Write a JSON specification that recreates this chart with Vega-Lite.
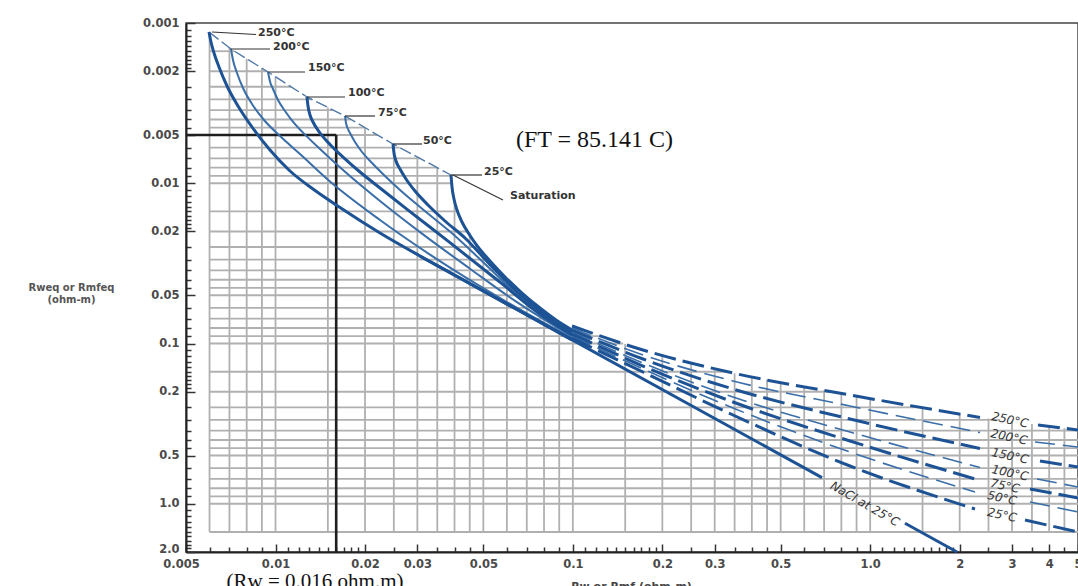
{
  "$schema": "https://vega.github.io/schema/vega-lite/v6.json",
  "width": 892,
  "height": 529,
  "autosize": {"type": "none"},
  "padding": {"left": 186, "top": 23, "right": 0, "bottom": 34},
  "background": "white",
  "config": {"view": {"stroke": "#444", "strokeWidth": 1.5}},
  "datasets": {
    "gridV": [
      {"x": 0.006, "y": 0.0011447, "y2": 1.5}, {"x": 0.007, "y": 0.001428, "y2": 1.5}, {"x": 0.008, "y": 0.0016726, "y2": 1.5},
      {"x": 0.009, "y": 0.0019145, "y2": 1.5}, {"x": 0.01, "y": 0.0021663, "y2": 1.5}, {"x": 0.015, "y": 0.0033674, "y2": 1.5},
      {"x": 0.02, "y": 0.0045013, "y2": 1.5}, {"x": 0.025, "y": 0.0057302, "y2": 1.5}, {"x": 0.03, "y": 0.0068576, "y2": 1.5},
      {"x": 0.035, "y": 0.0079972, "y2": 1.5}, {"x": 0.04, "y": 0.012867, "y2": 1.5}, {"x": 0.045, "y": 0.020291, "y2": 1.5},
      {"x": 0.05, "y": 0.027319, "y2": 1.5}, {"x": 0.06, "y": 0.039409, "y2": 1.5}, {"x": 0.07, "y": 0.051189, "y2": 1.5},
      {"x": 0.08, "y": 0.062593, "y2": 1.5}, {"x": 0.09, "y": 0.073312, "y2": 1.5}, {"x": 0.1, "y": 0.077983, "y2": 1.5},
      {"x": 0.15, "y": 0.10057, "y2": 1.5}, {"x": 0.2, "y": 0.11796, "y2": 1.5}, {"x": 0.25, "y": 0.131, "y2": 1.5},
      {"x": 0.3, "y": 0.1428, "y2": 1.5}, {"x": 0.35, "y": 0.15344, "y2": 1.5}, {"x": 0.4, "y": 0.16066, "y2": 1.5},
      {"x": 0.45, "y": 0.1675, "y2": 1.5}, {"x": 0.5, "y": 0.17362, "y2": 1.5}, {"x": 0.6, "y": 0.18522, "y2": 1.5},
      {"x": 0.7, "y": 0.19533, "y2": 1.5}, {"x": 0.8, "y": 0.20452, "y2": 1.5}, {"x": 0.9, "y": 0.21292, "y2": 1.5},
      {"x": 1.0, "y": 0.22039, "y2": 1.5}, {"x": 1.5, "y": 0.25115, "y2": 1.5}, {"x": 2.0, "y": 0.27534, "y2": 1.5},
      {"x": 2.5, "y": 0.29374, "y2": 1.5}, {"x": 3.0, "y": 0.30668, "y2": 1.5}, {"x": 3.5, "y": 0.31789, "y2": 1.5},
      {"x": 4.0, "y": 0.32857, "y2": 1.5}, {"x": 4.5, "y": 0.33767, "y2": 1.5}
    ],
    "gridH": [
      {"y": 0.0015, "x": 0.006, "x2": 0.007279}, {"y": 0.002, "x": 0.006, "x2": 0.0093555}, {"y": 0.0025, "x": 0.006, "x2": 0.011292},
      {"y": 0.003, "x": 0.006, "x2": 0.013266}, {"y": 0.0035, "x": 0.006, "x2": 0.015657}, {"y": 0.004, "x": 0.006, "x2": 0.017943},
      {"y": 0.0045, "x": 0.006, "x2": 0.019998}, {"y": 0.005, "x": 0.006, "x2": 0.022014}, {"y": 0.006, "x": 0.006, "x2": 0.026164},
      {"y": 0.007, "x": 0.006, "x2": 0.03057}, {"y": 0.008, "x": 0.006, "x2": 0.03498}, {"y": 0.009, "x": 0.006, "x2": 0.039228},
      {"y": 0.01, "x": 0.006, "x2": 0.039228}, {"y": 0.015, "x": 0.006, "x2": 0.040997}, {"y": 0.02, "x": 0.006, "x2": 0.044265},
      {"y": 0.025, "x": 0.006, "x2": 0.047977}, {"y": 0.03, "x": 0.006, "x2": 0.05224}, {"y": 0.035, "x": 0.006, "x2": 0.056408},
      {"y": 0.04, "x": 0.006, "x2": 0.060527}, {"y": 0.045, "x": 0.006, "x2": 0.064742}, {"y": 0.05, "x": 0.006, "x2": 0.068935},
      {"y": 0.06, "x": 0.006, "x2": 0.077487}, {"y": 0.07, "x": 0.006, "x2": 0.086425}, {"y": 0.08, "x": 0.006, "x2": 0.096772},
      {"y": 0.09, "x": 0.006, "x2": 0.12524}, {"y": 0.1, "x": 0.006, "x2": 0.14769}, {"y": 0.15, "x": 0.006, "x2": 0.32997},
      {"y": 0.2, "x": 0.006, "x2": 0.74697}, {"y": 0.25, "x": 0.006, "x2": 1.4823}, {"y": 0.3, "x": 0.006, "x2": 2.7395},
      {"y": 0.35, "x": 0.006, "x2": 5}, {"y": 0.4, "x": 0.006, "x2": 5}, {"y": 0.45, "x": 0.006, "x2": 5},
      {"y": 0.5, "x": 0.006, "x2": 5}, {"y": 0.6, "x": 0.006, "x2": 5}, {"y": 0.7, "x": 0.006, "x2": 5},
      {"y": 0.8, "x": 0.006, "x2": 5}, {"y": 0.9, "x": 0.006, "x2": 5}, {"y": 1.0, "x": 0.006, "x2": 5},
      {"y": 1.5, "x": 0.006, "x2": 5}
    ],
    "reading": [
      {"x": 0.005, "x2": 0.016, "y": 0.005, "y2": 0.005},
      {"x": 0.016, "x2": 0.016, "y": 0.005, "y2": 2.0}
    ],
    "saturation": [
      {"x": 0.005975, "y": 0.0011381}, {"x": 0.007084, "y": 0.0014529}, {"x": 0.009435, "y": 0.0020219},
      {"x": 0.012762, "y": 0.0028958}, {"x": 0.017129, "y": 0.0038048}, {"x": 0.024841, "y": 0.0056892},
      {"x": 0.038925, "y": 0.0088817}
    ],
    "curves": [
      {"T": "250", "part": "solid", "seg": "250s", "x": 0.005975, "y": 0.0011381},
      {"T": "250", "part": "solid", "seg": "250s", "x": 0.006068, "y": 0.0013139},
      {"T": "250", "part": "solid", "seg": "250s", "x": 0.006211, "y": 0.0015389},
      {"T": "250", "part": "solid", "seg": "250s", "x": 0.006456, "y": 0.0018817},
      {"T": "250", "part": "solid", "seg": "250s", "x": 0.006869, "y": 0.0024724},
      {"T": "250", "part": "solid", "seg": "250s", "x": 0.007479, "y": 0.0032956},
      {"T": "250", "part": "solid", "seg": "250s", "x": 0.008336, "y": 0.0044563},
      {"T": "250", "part": "solid", "seg": "250s", "x": 0.009583, "y": 0.0062014},
      {"T": "250", "part": "solid", "seg": "250s", "x": 0.011188, "y": 0.0083856},
      {"T": "250", "part": "solid", "seg": "250s", "x": 0.013369, "y": 0.010861},
      {"T": "250", "part": "solid", "seg": "250s", "x": 0.016478, "y": 0.014167},
      {"T": "250", "part": "solid", "seg": "250s", "x": 0.022461, "y": 0.020437},
      {"T": "250", "part": "solid", "seg": "250s", "x": 0.030617, "y": 0.02844},
      {"T": "250", "part": "solid", "seg": "250s", "x": 0.041734, "y": 0.039015},
      {"T": "250", "part": "solid", "seg": "250s", "x": 0.056891, "y": 0.053674},
      {"T": "250", "part": "solid", "seg": "250s", "x": 0.077546, "y": 0.073628},
      {"T": "250", "part": "solid", "seg": "250s", "x": 0.099352, "y": 0.094949},
      {"T": "200", "part": "solid", "seg": "200s", "x": 0.007084, "y": 0.0014529},
      {"T": "200", "part": "solid", "seg": "200s", "x": 0.007195, "y": 0.0017017},
      {"T": "200", "part": "solid", "seg": "200s", "x": 0.007422, "y": 0.0020512},
      {"T": "200", "part": "solid", "seg": "200s", "x": 0.007774, "y": 0.0025446},
      {"T": "200", "part": "solid", "seg": "200s", "x": 0.008336, "y": 0.0032022},
      {"T": "200", "part": "solid", "seg": "200s", "x": 0.009147, "y": 0.0040299},
      {"T": "200", "part": "solid", "seg": "200s", "x": 0.010354, "y": 0.0050716},
      {"T": "200", "part": "solid", "seg": "200s", "x": 0.012089, "y": 0.0065683},
      {"T": "200", "part": "solid", "seg": "200s", "x": 0.01525, "y": 0.0097512},
      {"T": "200", "part": "solid", "seg": "200s", "x": 0.022461, "y": 0.016955},
      {"T": "200", "part": "solid", "seg": "200s", "x": 0.033082, "y": 0.027874},
      {"T": "200", "part": "solid", "seg": "200s", "x": 0.048726, "y": 0.043894},
      {"T": "200", "part": "solid", "seg": "200s", "x": 0.071764, "y": 0.066582},
      {"T": "200", "part": "solid", "seg": "200s", "x": 0.099352, "y": 0.092259},
      {"T": "150", "part": "solid", "seg": "150s", "x": 0.009435, "y": 0.0020219},
      {"T": "150", "part": "solid", "seg": "150s", "x": 0.009583, "y": 0.0023177},
      {"T": "150", "part": "solid", "seg": "150s", "x": 0.009808, "y": 0.0025814},
      {"T": "150", "part": "solid", "seg": "150s", "x": 0.010195, "y": 0.0030234},
      {"T": "150", "part": "solid", "seg": "150s", "x": 0.010763, "y": 0.0035411},
      {"T": "150", "part": "solid", "seg": "150s", "x": 0.01163, "y": 0.0042805},
      {"T": "150", "part": "solid", "seg": "150s", "x": 0.012373, "y": 0.0048296},
      {"T": "150", "part": "solid", "seg": "150s", "x": 0.014114, "y": 0.006113},
      {"T": "150", "part": "solid", "seg": "150s", "x": 0.017129, "y": 0.0084826},
      {"T": "150", "part": "solid", "seg": "150s", "x": 0.022461, "y": 0.012904},
      {"T": "150", "part": "solid", "seg": "150s", "x": 0.030617, "y": 0.020175},
      {"T": "150", "part": "solid", "seg": "150s", "x": 0.045095, "y": 0.034134},
      {"T": "150", "part": "solid", "seg": "150s", "x": 0.066421, "y": 0.056849},
      {"T": "150", "part": "solid", "seg": "150s", "x": 0.099352, "y": 0.090292},
      {"T": "100", "part": "solid", "seg": "100s", "x": 0.012762, "y": 0.0028958},
      {"T": "100", "part": "solid", "seg": "100s", "x": 0.012861, "y": 0.0032956},
      {"T": "100", "part": "solid", "seg": "100s", "x": 0.013062, "y": 0.0037505},
      {"T": "100", "part": "solid", "seg": "100s", "x": 0.013369, "y": 0.0041474},
      {"T": "100", "part": "solid", "seg": "100s", "x": 0.014114, "y": 0.0048575},
      {"T": "100", "part": "solid", "seg": "100s", "x": 0.01525, "y": 0.0057302},
      {"T": "100", "part": "solid", "seg": "100s", "x": 0.017129, "y": 0.0070374},
      {"T": "100", "part": "solid", "seg": "100s", "x": 0.019239, "y": 0.0085068},
      {"T": "100", "part": "solid", "seg": "100s", "x": 0.022461, "y": 0.010706},
      {"T": "100", "part": "solid", "seg": "100s", "x": 0.028336, "y": 0.015027},
      {"T": "100", "part": "solid", "seg": "100s", "x": 0.038624, "y": 0.02346},
      {"T": "100", "part": "solid", "seg": "100s", "x": 0.056891, "y": 0.041442},
      {"T": "100", "part": "solid", "seg": "100s", "x": 0.077546, "y": 0.065632},
      {"T": "100", "part": "solid", "seg": "100s", "x": 0.099352, "y": 0.088367},
      {"T": "75", "part": "solid", "seg": "75s", "x": 0.017129, "y": 0.0038048},
      {"T": "75", "part": "solid", "seg": "75s", "x": 0.017262, "y": 0.0042074},
      {"T": "75", "part": "solid", "seg": "75s", "x": 0.017531, "y": 0.0045862},
      {"T": "75", "part": "solid", "seg": "75s", "x": 0.017805, "y": 0.0048575},
      {"T": "75", "part": "solid", "seg": "75s", "x": 0.018508, "y": 0.005528},
      {"T": "75", "part": "solid", "seg": "75s", "x": 0.019539, "y": 0.0063822},
      {"T": "75", "part": "solid", "seg": "75s", "x": 0.021112, "y": 0.007475},
      {"T": "75", "part": "solid", "seg": "75s", "x": 0.023348, "y": 0.0090103},
      {"T": "75", "part": "solid", "seg": "75s", "x": 0.026224, "y": 0.011018},
      {"T": "75", "part": "solid", "seg": "75s", "x": 0.030617, "y": 0.014066},
      {"T": "75", "part": "solid", "seg": "75s", "x": 0.038624, "y": 0.02003},
      {"T": "75", "part": "solid", "seg": "75s", "x": 0.052648, "y": 0.034134},
      {"T": "75", "part": "solid", "seg": "75s", "x": 0.067457, "y": 0.052985},
      {"T": "75", "part": "solid", "seg": "75s", "x": 0.077546, "y": 0.064234},
      {"T": "75", "part": "solid", "seg": "75s", "x": 0.099352, "y": 0.086481},
      {"T": "50", "part": "solid", "seg": "50s", "x": 0.024841, "y": 0.0056892},
      {"T": "50", "part": "solid", "seg": "50s", "x": 0.025034, "y": 0.0064746},
      {"T": "50", "part": "solid", "seg": "50s", "x": 0.025425, "y": 0.0072632},
      {"T": "50", "part": "solid", "seg": "50s", "x": 0.026224, "y": 0.008148},
      {"T": "50", "part": "solid", "seg": "50s", "x": 0.027471, "y": 0.0094069},
      {"T": "50", "part": "solid", "seg": "50s", "x": 0.029455, "y": 0.011178},
      {"T": "50", "part": "solid", "seg": "50s", "x": 0.032574, "y": 0.013668},
      {"T": "50", "part": "solid", "seg": "50s", "x": 0.037158, "y": 0.017201},
      {"T": "50", "part": "solid", "seg": "50s", "x": 0.043382, "y": 0.02196},
      {"T": "50", "part": "solid", "seg": "50s", "x": 0.052648, "y": 0.032228},
      {"T": "50", "part": "solid", "seg": "50s", "x": 0.067457, "y": 0.05075},
      {"T": "50", "part": "solid", "seg": "50s", "x": 0.077546, "y": 0.062414},
      {"T": "50", "part": "solid", "seg": "50s", "x": 0.087776, "y": 0.073416},
      {"T": "50", "part": "solid", "seg": "50s", "x": 0.099352, "y": 0.084638},
      {"T": "25", "part": "solid", "seg": "25s", "x": 0.038925, "y": 0.0088817},
      {"T": "25", "part": "solid", "seg": "25s", "x": 0.039228, "y": 0.010553},
      {"T": "25", "part": "solid", "seg": "25s", "x": 0.03984, "y": 0.012539},
      {"T": "25", "part": "solid", "seg": "25s", "x": 0.040777, "y": 0.014686},
      {"T": "25", "part": "solid", "seg": "25s", "x": 0.042386, "y": 0.017449},
      {"T": "25", "part": "solid", "seg": "25s", "x": 0.044746, "y": 0.020733},
      {"T": "25", "part": "solid", "seg": "25s", "x": 0.047977, "y": 0.024991},
      {"T": "25", "part": "solid", "seg": "25s", "x": 0.052648, "y": 0.03056},
      {"T": "25", "part": "solid", "seg": "25s", "x": 0.059136, "y": 0.038459},
      {"T": "25", "part": "solid", "seg": "25s", "x": 0.067457, "y": 0.048398},
      {"T": "25", "part": "solid", "seg": "25s", "x": 0.077546, "y": 0.060038},
      {"T": "25", "part": "solid", "seg": "25s", "x": 0.087776, "y": 0.071336},
      {"T": "25", "part": "solid", "seg": "25s", "x": 0.099352, "y": 0.08236},
      {"T": "250", "part": "dashed", "seg": "250a", "x": 0.099352, "y": 0.077759},
      {"T": "250", "part": "dashed", "seg": "250a", "x": 0.17218, "y": 0.10978},
      {"T": "250", "part": "dashed", "seg": "250a", "x": 0.34567, "y": 0.15278},
      {"T": "250", "part": "dashed", "seg": "250a", "x": 0.85536, "y": 0.20957},
      {"T": "250", "part": "dashed", "seg": "250a", "x": 2.3409, "y": 0.28954},
      {"T": "250", "part": "dashed", "seg": "250b", "x": 3.6681, "y": 0.32249},
      {"T": "250", "part": "dashed", "seg": "250b", "x": 5.0, "y": 0.34652},
      {"T": "200", "part": "dashed", "seg": "200a", "x": 0.099352, "y": 0.080026},
      {"T": "200", "part": "dashed", "seg": "200a", "x": 0.17218, "y": 0.11796},
      {"T": "200", "part": "dashed", "seg": "200a", "x": 0.34567, "y": 0.17139},
      {"T": "200", "part": "dashed", "seg": "200a", "x": 0.85536, "y": 0.24545},
      {"T": "200", "part": "dashed", "seg": "200a", "x": 2.3409, "y": 0.35919},
      {"T": "200", "part": "dashed", "seg": "200b", "x": 3.5839, "y": 0.41172},
      {"T": "200", "part": "dashed", "seg": "200b", "x": 5.0, "y": 0.44239},
      {"T": "150", "part": "dashed", "seg": "150a", "x": 0.099352, "y": 0.08236},
      {"T": "150", "part": "dashed", "seg": "150a", "x": 0.17218, "y": 0.12493},
      {"T": "150", "part": "dashed", "seg": "150a", "x": 0.34567, "y": 0.19227},
      {"T": "150", "part": "dashed", "seg": "150a", "x": 0.85536, "y": 0.29585},
      {"T": "150", "part": "dashed", "seg": "150a", "x": 2.3409, "y": 0.45203},
      {"T": "150", "part": "dashed", "seg": "150b", "x": 3.7254, "y": 0.54097},
      {"T": "150", "part": "dashed", "seg": "150b", "x": 5.0, "y": 0.58966},
      {"T": "100", "part": "dashed", "seg": "100a", "x": 0.099352, "y": 0.08476},
      {"T": "100", "part": "dashed", "seg": "100a", "x": 0.17218, "y": 0.13233},
      {"T": "100", "part": "dashed", "seg": "100a", "x": 0.34567, "y": 0.21568},
      {"T": "100", "part": "dashed", "seg": "100a", "x": 0.85536, "y": 0.35662},
      {"T": "100", "part": "dashed", "seg": "100a", "x": 2.3409, "y": 0.59391},
      {"T": "100", "part": "dashed", "seg": "100b", "x": 3.6399, "y": 0.70063},
      {"T": "100", "part": "dashed", "seg": "100b", "x": 5.0, "y": 0.78598},
      {"T": "75", "part": "dashed", "seg": "75a", "x": 0.099352, "y": 0.08723},
      {"T": "75", "part": "dashed", "seg": "75a", "x": 0.17218, "y": 0.13816},
      {"T": "75", "part": "dashed", "seg": "75a", "x": 0.34567, "y": 0.23174},
      {"T": "75", "part": "dashed", "seg": "75a", "x": 0.85536, "y": 0.40585},
      {"T": "75", "part": "dashed", "seg": "75a", "x": 2.252, "y": 0.70063},
      {"T": "75", "part": "dashed", "seg": "75b", "x": 3.4478, "y": 0.80889},
      {"T": "75", "part": "dashed", "seg": "75b", "x": 5.0, "y": 0.92056},
      {"T": "50", "part": "dashed", "seg": "50a", "x": 0.099352, "y": 0.089773},
      {"T": "50", "part": "dashed", "seg": "50a", "x": 0.17218, "y": 0.14424},
      {"T": "50", "part": "dashed", "seg": "50a", "x": 0.34567, "y": 0.2526},
      {"T": "50", "part": "dashed", "seg": "50a", "x": 0.85536, "y": 0.47534},
      {"T": "50", "part": "dashed", "seg": "50a", "x": 2.252, "y": 0.84452},
      {"T": "50", "part": "dashed", "seg": "50b", "x": 3.4478, "y": 0.97501},
      {"T": "50", "part": "dashed", "seg": "50b", "x": 5.0, "y": 1.1257},
      {"T": "25", "part": "dashed", "seg": "25a", "x": 0.099352, "y": 0.092391},
      {"T": "25", "part": "dashed", "seg": "25a", "x": 0.17218, "y": 0.1506},
      {"T": "25", "part": "dashed", "seg": "25a", "x": 0.34567, "y": 0.27933},
      {"T": "25", "part": "dashed", "seg": "25a", "x": 0.85536, "y": 0.58125},
      {"T": "25", "part": "dashed", "seg": "25a", "x": 2.252, "y": 1.0782},
      {"T": "25", "part": "dashed", "seg": "25b", "x": 3.3169, "y": 1.2628},
      {"T": "25", "part": "dashed", "seg": "25b", "x": 5.0, "y": 1.5004},
      {"T": "NaCl", "part": "nacl", "seg": "na", "x": 0.030617, "y": 0.028481},
      {"T": "NaCl", "part": "nacl", "seg": "na", "x": 0.68865, "y": 0.68667},
      {"T": "NaCl", "part": "nacl", "seg": "nb", "x": 1.3096, "y": 1.3241},
      {"T": "NaCl", "part": "nacl", "seg": "nb", "x": 1.959, "y": 2.0}
    ],
    "leaders": [
      {"x": 0.0061153, "y": 0.0011381, "x2": 0.0085982, "y2": 0.0011800},
      {"x": 0.007084, "y": 0.0014529, "x2": 0.009583, "y2": 0.0014529},
      {"x": 0.009435, "y": 0.0020219, "x2": 0.012566, "y2": 0.0020219},
      {"x": 0.012762, "y": 0.0028958, "x2": 0.017129, "y2": 0.0028958},
      {"x": 0.017129, "y": 0.0038048, "x2": 0.021609, "y2": 0.0038048},
      {"x": 0.024841, "y": 0.0056892, "x2": 0.031095, "y2": 0.0056892},
      {"x": 0.038925, "y": 0.0088817, "x2": 0.049487, "y2": 0.0088817},
      {"x": 0.039532, "y": 0.0088817, "x2": 0.058229, "y2": 0.01272}
    ],
    "leftLabels": [
      {"x": 0.008732, "y": 0.0011546, "label": "250°C"},
      {"x": 0.009808, "y": 0.0014217, "label": "200°C"},
      {"x": 0.012861, "y": 0.001909, "label": "150°C"},
      {"x": 0.017531, "y": 0.002734, "label": "100°C"},
      {"x": 0.022116, "y": 0.0036443, "label": "75°C"},
      {"x": 0.031337, "y": 0.0054492, "label": "50°C"},
      {"x": 0.05026, "y": 0.0085068, "label": "25°C"},
      {"x": 0.06147, "y": 0.01201, "label": "Saturation"}
    ],
    "rightLabels": [
      {"x": 2.9531, "y": 0.30014, "label": "250°C"},
      {"x": 2.9302, "y": 0.38319, "label": "200°C"},
      {"x": 2.9531, "y": 0.50347, "label": "150°C"},
      {"x": 2.9531, "y": 0.64278, "label": "100°C"},
      {"x": 2.8409, "y": 0.77477, "label": "75°C"},
      {"x": 2.7757, "y": 0.92056, "label": "50°C"},
      {"x": 2.7757, "y": 1.1753, "label": "25°C"}
    ],
    "naclLabel": [{"x": 0.96075, "y": 1.0034, "label": "NaCl at 25°C"}],
    "ftLabel": [{"x": 0.11826, "y": 0.0053715, "label": "(FT = 85.141 C)"}],
    "rwLabel": [{"x": 0.013578, "y": 2.0, "label": "(Rw = 0.016 ohm.m)"}]
  },
  "encoding": {
    "x": {
      "field": "x", "type": "quantitative",
      "scale": {"type": "log", "domain": [0.005, 5], "nice": false},
      "axis": {
        "title": "Rw or Rmf (ohm-m)",
        "titleFont": "DejaVu Sans", "titleFontSize": 11, "titleFontWeight": "bold", "titleColor": "#444",
        "titleBaseline": "top", "titleY": 28, "titleX": 445,
        "values": [0.005,0.006,0.007,0.008,0.009,0.01,0.011,0.012,0.013,0.014,0.015,0.016,0.017,0.018,0.019,0.02,0.025,0.03,0.035,0.04,0.045,0.05,0.06,0.07,0.08,0.09,0.1,0.11,0.12,0.13,0.14,0.15,0.16,0.17,0.18,0.19,0.2,0.25,0.3,0.35,0.4,0.45,0.5,0.6,0.7,0.8,0.9,1,1.1,1.2,1.3,1.4,1.5,1.6,1.7,1.8,1.9,2,2.5,3,3.5,4,4.5,5],
        "labelExpr": "datum.value == 1 ? '1.0' : (indexof([0.005,0.01,0.02,0.03,0.05,0.1,0.2,0.3,0.5,2,3,4,5], datum.value) >= 0 ? toString(datum.value) : '')",
        "labelFont": "DejaVu Sans", "labelFontSize": 11.5, "labelFontWeight": "bold", "labelColor": "#4a4a4a",
        "labelOverlap": false, "labelFlush": false, "labelPadding": 14,
        "labelOffset": {"condition": {"test": "datum.value == 0.005", "value": -5}, "value": 0},
        "tickSize": {"condition": {"test": "indexof([0.005,0.01,0.02,0.03,0.05,0.1,0.2,0.3,0.5,1,2,3,4,5], datum.value) >= 0", "value": -8}, "value": -5},
        "tickColor": "#333", "tickWidth": 1.5,
        "domainColor": "#222", "domainWidth": 2, "grid": false
      }
    },
    "y": {
      "field": "y", "type": "quantitative",
      "scale": {"type": "log", "domain": [0.001, 2], "reverse": true, "nice": false},
      "axis": {
        "title": ["Rweq or Rmfeq", "(ohm-m)"],
        "titleFont": "DejaVu Sans", "titleFontSize": 10, "titleFontWeight": "bold", "titleColor": "#555",
        "titleAngle": 0, "titleAlign": "center", "titleBaseline": "middle", "titleLineHeight": 12,
        "titleX": -115, "titleY": 264,
        "values": [0.001,0.0011,0.0012,0.0013,0.0014,0.0015,0.0016,0.0017,0.0018,0.0019,0.002,0.0025,0.003,0.0035,0.004,0.0045,0.005,0.006,0.007,0.008,0.009,0.01,0.011,0.012,0.013,0.014,0.015,0.016,0.017,0.018,0.019,0.02,0.025,0.03,0.035,0.04,0.045,0.05,0.06,0.07,0.08,0.09,0.1,0.11,0.12,0.13,0.14,0.15,0.16,0.17,0.18,0.19,0.2,0.25,0.3,0.35,0.4,0.45,0.5,0.6,0.7,0.8,0.9,1,1.1,1.2,1.3,1.4,1.5,1.6,1.7,1.8,1.9,2],
        "labelExpr": "datum.value == 1 ? '1.0' : (datum.value == 2 ? '2.0' : (indexof([0.001,0.002,0.005,0.01,0.02,0.05,0.1,0.2,0.5], datum.value) >= 0 ? toString(datum.value) : ''))",
        "labelFont": "DejaVu Sans", "labelFontSize": 11.5, "labelFontWeight": "bold", "labelColor": "#4a4a4a",
        "labelOverlap": false, "labelFlush": false, "labelPadding": 16, "labelBaseline": "middle",
        "labelOffset": {"condition": {"test": "datum.value == 2", "value": -3}, "value": 0},
        "tickSize": {"condition": {"test": "indexof([0.001,0.002,0.005,0.01,0.02,0.05,0.1,0.2,0.5,1,2], datum.value) >= 0", "value": -9}, "value": -5},
        "tickColor": "#333", "tickWidth": 1.5,
        "domainColor": "#222", "domainWidth": 2, "grid": false
      }
    }
  },
  "layer": [
    {"data": {"name": "gridV"}, "mark": {"type": "rule", "color": "#b0b0b0", "strokeWidth": 1.8}, "encoding": {"y2": {"field": "y2"}}},
    {"data": {"name": "gridH"}, "mark": {"type": "rule", "color": "#b0b0b0", "strokeWidth": 1.8}, "encoding": {"x2": {"field": "x2"}}},
    {"data": {"name": "reading"}, "mark": {"type": "rule", "color": "#1e1e1e", "strokeWidth": 2.6}, "encoding": {"x2": {"field": "x2"}, "y2": {"field": "y2"}}},
    {"data": {"name": "saturation"}, "mark": {"type": "line", "color": "#4f78a6", "strokeWidth": 1.4, "strokeDash": [12, 4]}, "encoding": {}},
    {"data": {"name": "curves"}, "transform": [{"filter": "datum.part == 'solid' && indexof(['200','150','75'], datum.T) >= 0"}],
     "mark": {"type": "line", "color": "#3a6ea8", "strokeWidth": 2, "interpolate": "monotone"}, "encoding": {"detail": {"field": "seg"}}},
    {"data": {"name": "curves"}, "transform": [{"filter": "datum.part == 'solid' && indexof(['250','100','50','25'], datum.T) >= 0"}],
     "mark": {"type": "line", "color": "#1d5394", "strokeWidth": 3, "interpolate": "monotone"}, "encoding": {"detail": {"field": "seg"}}},
    {"data": {"name": "curves"}, "transform": [{"filter": "datum.part == 'dashed' && indexof(['200','100','50'], datum.T) >= 0"}],
     "mark": {"type": "line", "color": "#3a6ea8", "strokeWidth": 1.6, "strokeDash": [20, 8], "interpolate": "monotone"}, "encoding": {"detail": {"field": "seg"}}},
    {"data": {"name": "curves"}, "transform": [{"filter": "datum.part == 'dashed' && indexof(['250','150','75','25'], datum.T) >= 0"}],
     "mark": {"type": "line", "color": "#1d5394", "strokeWidth": 3, "strokeDash": [22, 7], "interpolate": "monotone"}, "encoding": {"detail": {"field": "seg"}}},
    {"data": {"name": "curves"}, "transform": [{"filter": "datum.part == 'nacl'"}],
     "mark": {"type": "line", "color": "#1d5394", "strokeWidth": 3}, "encoding": {"detail": {"field": "seg"}}},
    {"data": {"name": "leaders"}, "mark": {"type": "rule", "color": "#333", "strokeWidth": 1.2}, "encoding": {"x2": {"field": "x2"}, "y2": {"field": "y2"}}},
    {"data": {"name": "leftLabels"}, "mark": {"type": "text", "align": "left", "baseline": "middle", "font": "DejaVu Sans", "fontWeight": "bold", "fontSize": 11, "color": "#333"}, "encoding": {"text": {"field": "label"}}},
    {"data": {"name": "rightLabels"}, "mark": {"type": "text", "align": "center", "baseline": "middle", "font": "DejaVu Sans", "fontSize": 12, "fontStyle": "italic", "color": "#333", "angle": 12}, "encoding": {"text": {"field": "label"}}},
    {"data": {"name": "naclLabel"}, "mark": {"type": "text", "align": "center", "baseline": "middle", "font": "DejaVu Sans", "fontSize": 12, "fontStyle": "italic", "color": "#333", "angle": 30}, "encoding": {"text": {"field": "label"}}},
    {"data": {"name": "ftLabel"}, "mark": {"type": "text", "align": "center", "baseline": "middle", "font": "Liberation Serif", "fontSize": 24, "color": "#111"}, "encoding": {"text": {"field": "label"}}},
    {"data": {"name": "rwLabel"}, "mark": {"type": "text", "align": "center", "baseline": "alphabetic", "font": "Liberation Serif", "fontSize": 21, "color": "#111", "dy": 36}, "encoding": {"text": {"field": "label"}}}
  ]
}
